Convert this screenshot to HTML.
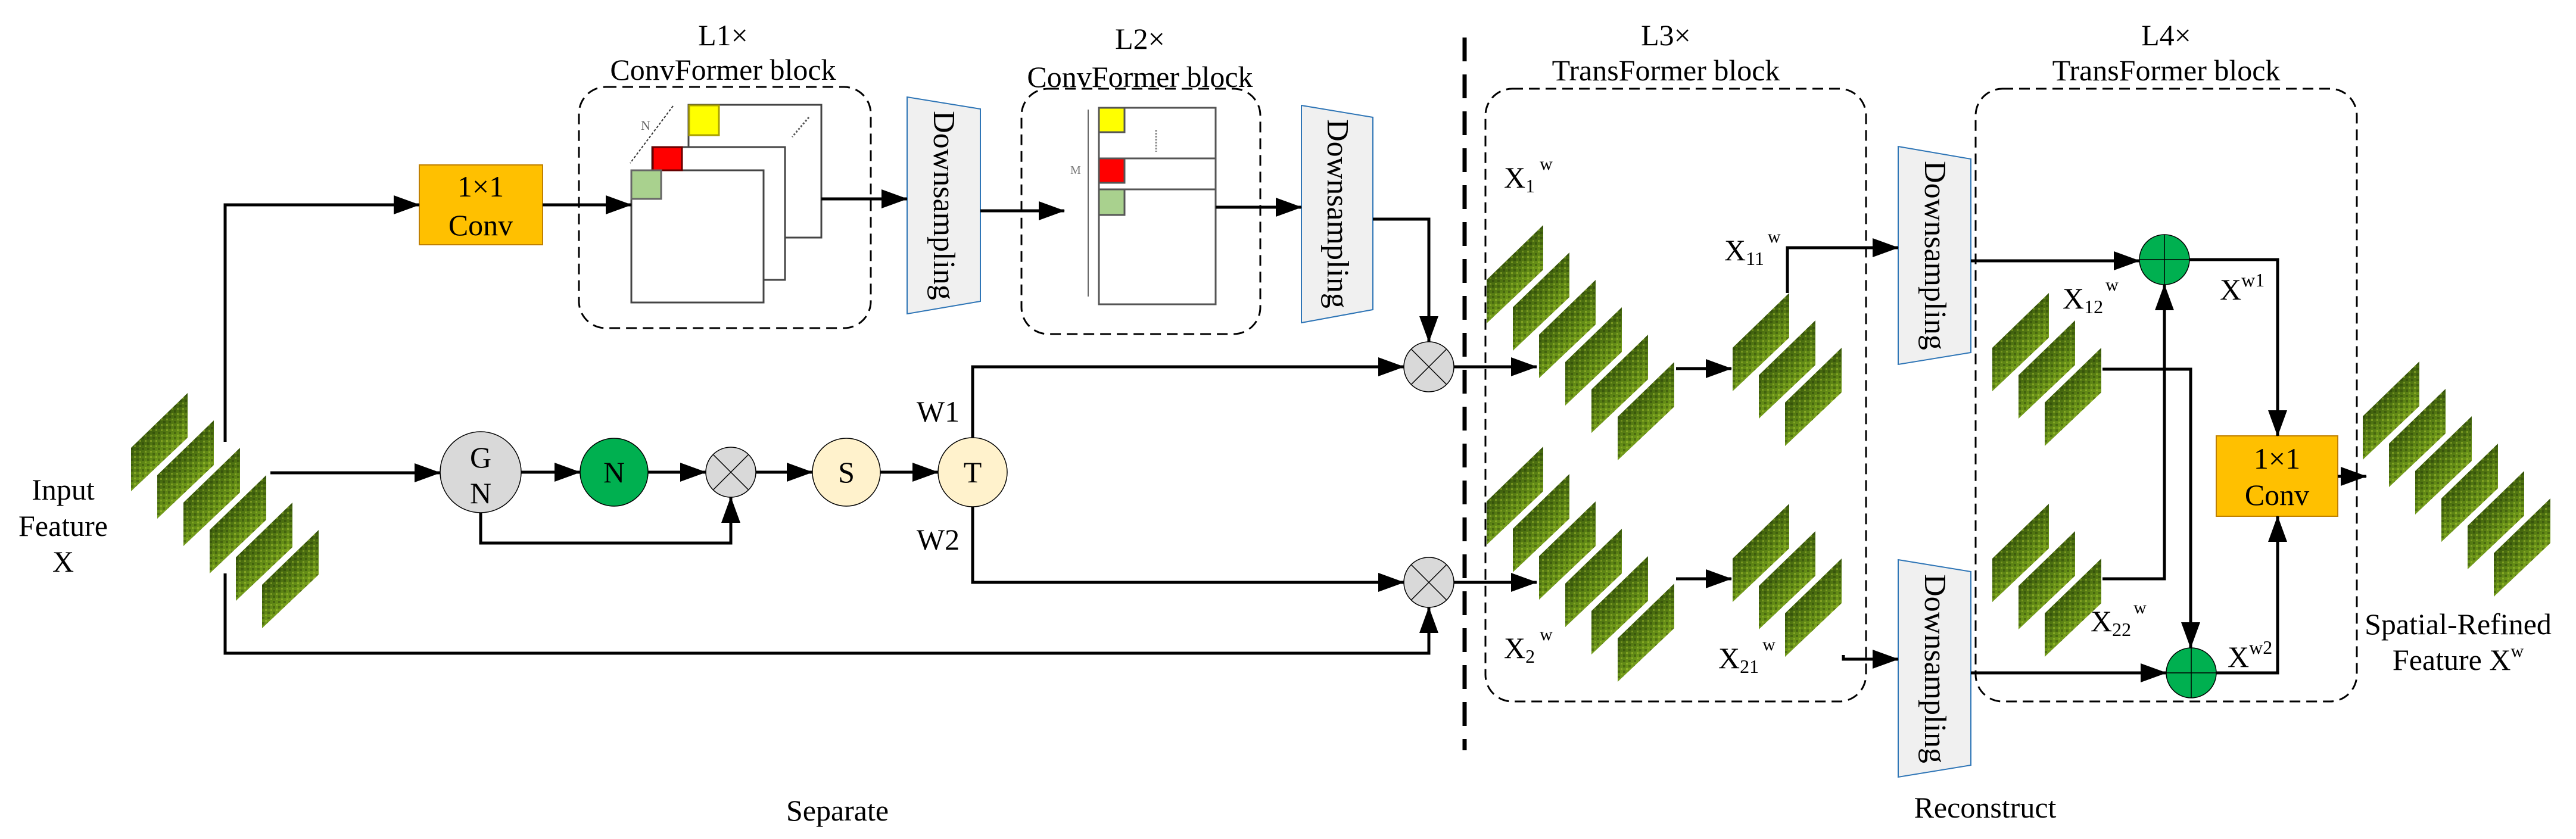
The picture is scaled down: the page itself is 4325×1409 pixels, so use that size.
<!DOCTYPE html>
<html><head><meta charset="utf-8"><style>
html,body{margin:0;padding:0;background:#fff;font-family:"Liberation Serif","Times New Roman",serif;}
svg{display:block;font-family:"Liberation Serif","Times New Roman",serif;}
svg text, svg tspan{font-family:"Liberation Serif","Times New Roman",serif !important;}
</style></head><body>
<svg width="4325" height="1409" viewBox="0 0 4325 1409" xmlns="http://www.w3.org/2000/svg" font-family="Liberation Serif, serif">
<defs>
<marker id="a" markerUnits="userSpaceOnUse" markerWidth="44" markerHeight="32" refX="43" refY="16" orient="auto"><path d="M0,0 L44,16 L0,32z" fill="#000"/></marker>
<linearGradient id="g" x1="0" y1="0" x2="0.6" y2="1">
<stop offset="0" stop-color="#4a6a10"/><stop offset="0.4" stop-color="#3a5a0c"/><stop offset="0.7" stop-color="#6a9418"/><stop offset="1" stop-color="#b4d030"/></linearGradient>
<pattern id="st" width="9" height="9" patternUnits="userSpaceOnUse"><rect x="0" y="0" width="4" height="4" fill="#1a2a04" opacity="0.35"/><rect x="5" y="5" width="3" height="3" fill="#c8e040" opacity="0.35"/></pattern>
<g id="p"><polygon points="0,0 95,-92 95,-17 0,73" fill="url(#g)"/><polygon points="0,0 95,-92 95,-17 0,73" fill="url(#st)"/></g>
<g id="s6"><use href="#p" x="0" y="0"/><use href="#p" x="44" y="46"/><use href="#p" x="88" y="92"/><use href="#p" x="132" y="138"/><use href="#p" x="176" y="184"/><use href="#p" x="220" y="230"/></g>
<g id="s3"><use href="#p" x="0" y="0"/><use href="#p" x="44" y="46"/><use href="#p" x="88" y="92"/></g>
</defs>

<use href="#s6" x="220" y="752"/>
<use href="#s6" x="2496" y="470"/>
<use href="#s6" x="2496" y="842"/>
<use href="#s3" x="2909" y="584"/>
<use href="#s3" x="2909" y="938"/>
<use href="#s3" x="3345" y="584"/>
<use href="#s3" x="3345" y="938"/>
<use href="#s6" x="3967" y="699"/>

<line x1="2459" y1="63" x2="2459" y2="1260" stroke="#000" stroke-width="7" stroke-dasharray="40 22"/>

<g fill="none" stroke="#000" stroke-width="3" stroke-dasharray="18 10">
<rect x="972" y="146" width="490" height="405" rx="45"/>
<rect x="1715" y="149" width="401" height="412" rx="45"/>
<rect x="2494" y="149" width="639" height="1029" rx="45"/>
<rect x="3317" y="149" width="640" height="1029" rx="45"/>
</g>

<g font-size="50" text-anchor="middle">
<text x="1214" y="76">L1×</text><text x="1214" y="134">ConvFormer block</text>
<text x="1914" y="82">L2×</text><text x="1914" y="146">ConvFormer block</text>
<text x="2797" y="76">L3×</text><text x="2797" y="135">TransFormer block</text>
<text x="3637" y="76">L4×</text><text x="3637" y="135">TransFormer block</text>
<text x="106" y="839">Input</text><text x="106" y="900">Feature</text><text x="106" y="960">X</text>
<text x="1406" y="1378">Separate</text>
<text x="3333" y="1373">Reconstruct</text>
<text x="4127" y="1065">Spatial-Refined</text>
<text x="4127" y="1125">Feature X<tspan font-size="30" dy="-22">w</tspan></text>
</g>

<g stroke="#444" stroke-width="3">
<rect x="1156" y="176" width="223" height="223" fill="#fff"/>
<rect x="1095" y="247" width="223" height="223" fill="#fff"/>
<rect x="1060" y="286" width="222" height="222" fill="#fff"/>
<rect x="1157" y="177" width="50" height="50" fill="#ffff00" stroke="#aaa000"/>
<rect x="1096" y="247" width="49" height="39" fill="#ff0000" stroke="#600"/>
<rect x="1060" y="286" width="50" height="48" fill="#a9d18e" stroke="#666"/>
</g>
<line x1="1130" y1="178" x2="1058" y2="274" stroke="#333" stroke-width="2" stroke-dasharray="4 3"/>
<text x="1076" y="218" font-size="22" fill="#666">N</text>
<line x1="1358" y1="197" x2="1330" y2="230" stroke="#555" stroke-width="3" stroke-dasharray="3 3"/>

<g stroke="#555" stroke-width="3" fill="#fff">
<rect x="1845" y="181" width="196" height="330"/>
<line x1="1845" y1="266" x2="2041" y2="266"/>
<line x1="1845" y1="318" x2="2041" y2="318"/>
<rect x="1845" y="181" width="43" height="41" fill="#ffff00"/>
<rect x="1845" y="266" width="43" height="41" fill="#ff0000"/>
<rect x="1845" y="318" width="43" height="43" fill="#a9d18e"/>
</g>
<line x1="1827" y1="184" x2="1827" y2="498" stroke="#666" stroke-width="2"/>
<text x="1797" y="292" font-size="20" fill="#777">M</text>
<line x1="1941" y1="218" x2="1941" y2="255" stroke="#888" stroke-width="3" stroke-dasharray="3 2"/>

<g fill="#f0f0f0" stroke="#2e75b6" stroke-width="2">
<polygon points="1523,163 1646,183 1646,506 1523,527"/>
<polygon points="2185,177 2305,197 2305,520 2185,542"/>
<polygon points="3187,246 3309,267 3309,592 3187,612"/>
<polygon points="3187,940 3309,960 3309,1285 3187,1305"/>
</g>
<g font-size="52" text-anchor="middle">
<text transform="translate(1568,345) rotate(90)">Downsampling</text>
<text transform="translate(2229,359) rotate(90)">Downsampling</text>
<text transform="translate(3232,429) rotate(90)">Downsampling</text>
<text transform="translate(3232,1123) rotate(90)">Downsampling</text>
</g>

<rect x="704" y="277" width="207" height="134" fill="#ffc000" stroke="#c08000" stroke-width="2"/>
<rect x="3721" y="732" width="204" height="135" fill="#ffc000" stroke="#c08000" stroke-width="2"/>
<g font-size="50" text-anchor="middle">
<text x="807" y="330">1×1</text><text x="807" y="395">Conv</text>
<text x="3823" y="787">1×1</text><text x="3823" y="848">Conv</text>
</g>

<g fill="none" stroke="#000" stroke-width="5">
<polyline points="378,742 378,344 704,344" marker-end="url(#a)"/>
<line x1="911" y1="344" x2="1060" y2="344" marker-end="url(#a)"/>
<line x1="1379" y1="334" x2="1523" y2="334" marker-end="url(#a)"/>
<line x1="1646" y1="354" x2="1787" y2="354" marker-end="url(#a)"/>
<line x1="2041" y1="348" x2="2185" y2="348" marker-end="url(#a)"/>
<polyline points="2305,368 2399,368 2399,574" marker-end="url(#a)"/>
<line x1="454" y1="794" x2="739" y2="794" marker-end="url(#a)"/>
<line x1="875" y1="793" x2="974" y2="793" marker-end="url(#a)"/>
<line x1="1088" y1="793" x2="1185" y2="793" marker-end="url(#a)"/>
<line x1="1269" y1="793" x2="1364" y2="793" marker-end="url(#a)"/>
<line x1="1478" y1="793" x2="1575" y2="793" marker-end="url(#a)"/>
<polyline points="807,861 807,912 1227,912 1227,835" marker-end="url(#a)"/>
<polyline points="1633,735 1633,616 2357,616" marker-end="url(#a)"/>
<polyline points="1633,851 1633,978 2357,978" marker-end="url(#a)"/>
<polyline points="378,963 378,1097 2399,1097 2399,1020" marker-end="url(#a)"/>
<line x1="2441" y1="616" x2="2580" y2="616" marker-end="url(#a)"/>
<line x1="2441" y1="978" x2="2580" y2="978" marker-end="url(#a)"/>
<line x1="2814" y1="619" x2="2907" y2="619" marker-end="url(#a)"/>
<line x1="2814" y1="972" x2="2907" y2="972" marker-end="url(#a)"/>
<polyline points="3001,492 3001,416 3187,416" marker-end="url(#a)"/>
<polyline points="3095,1100 3095,1107 3187,1107" marker-end="url(#a)"/>
<line x1="3309" y1="438" x2="3592" y2="438" marker-end="url(#a)"/>
<polyline points="3676,436 3824,436 3824,732" marker-end="url(#a)"/>
<polyline points="3530,620 3678,620 3678,1088" marker-end="url(#a)"/>
<polyline points="3530,972 3634,972 3634,478" marker-end="url(#a)"/>
<line x1="3309" y1="1130" x2="3637" y2="1130" marker-end="url(#a)"/>
<polyline points="3721,1130 3824,1130 3824,867" marker-end="url(#a)"/>
<line x1="3925" y1="800" x2="3973" y2="800" marker-end="url(#a)"/>
</g>

<g stroke="#000" stroke-width="1.5">
<circle cx="807" cy="793" r="68" fill="#d9d9d9"/>
<circle cx="1031" cy="793" r="57" fill="#00b050"/>
<circle cx="1421" cy="793" r="57" fill="#fff2cc"/>
<circle cx="1633" cy="793" r="58" fill="#fff2cc"/>
<g fill="#d9d9d9">
<circle cx="1227" cy="793" r="42"/><circle cx="2399" cy="616" r="42"/><circle cx="2399" cy="978" r="42"/>
</g>
<path d="M1197,763 L1257,823 M1257,763 L1197,823 M2369,586 L2429,646 M2429,586 L2369,646 M2369,948 L2429,1008 M2429,948 L2369,1008" fill="none"/>
<circle cx="3634" cy="436" r="42" fill="#00b050"/>
<circle cx="3679" cy="1130" r="42" fill="#00b050"/>
<path d="M3592,436 H3676 M3634,394 V478 M3637,1130 H3721 M3679,1088 V1172" fill="none"/>
</g>
<g font-size="50" text-anchor="middle">
<text x="807" y="785">G</text><text x="807" y="845">N</text>
<text x="1031" y="810">N</text>
<text x="1421" y="810">S</text>
<text x="1633" y="810">T</text>
<text x="1575" y="708">W1</text>
<text x="1575" y="923">W2</text>
</g>

<g font-size="50">
<text x="2525" y="315">X<tspan font-size="32" dy="8">1</tspan><tspan font-size="30" dy="-38" dx="8">w</tspan></text>
<text x="2895" y="437">X<tspan font-size="32" dy="8">11</tspan><tspan font-size="30" dy="-38" dx="6">w</tspan></text>
<text x="2525" y="1105">X<tspan font-size="32" dy="8">2</tspan><tspan font-size="30" dy="-38" dx="8">w</tspan></text>
<text x="2885" y="1122">X<tspan font-size="32" dy="8">21</tspan><tspan font-size="30" dy="-38" dx="6">w</tspan></text>
<text x="3463" y="518">X<tspan font-size="32" dy="8">12</tspan><tspan font-size="30" dy="-38" dx="4">w</tspan></text>
<text x="3510" y="1060">X<tspan font-size="32" dy="8">22</tspan><tspan font-size="30" dy="-38" dx="4">w</tspan></text>
<text x="3727" y="503">X<tspan font-size="32" dy="-22">w1</tspan></text>
<text x="3740" y="1120">X<tspan font-size="32" dy="-22">w2</tspan></text>
</g>
</svg>
</body></html>
